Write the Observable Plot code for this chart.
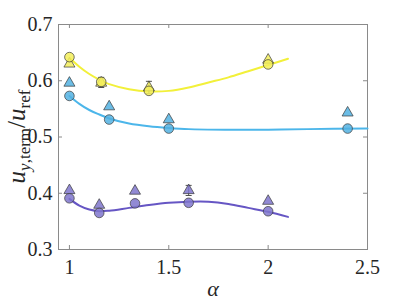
<!DOCTYPE html>
<html><head><meta charset="utf-8">
<script src="https://cdn.jsdelivr.net/npm/d3@7"></script>
<script src="https://cdn.jsdelivr.net/npm/@observablehq/plot@0.6"></script>
<style>body{margin:0;background:#fff}</style></head>
<body><div id="c"></div>
<script>
const xTicks = [1, 1.5, 2, 2.5];
const yTicks = [0.3, 0.4, 0.5, 0.6, 0.7];
const seriesNames = ["yellow", "blue", "purple"];
const seriesFill = ["#f3ef5c", "#52b2e2", "#7f76cc"];
const seriesLine = ["#f2f03a", "#4cb6ea", "#6656c4"];

// markers: circles
const yelCircX = [1, 1.16, 1.4, 2];
const yelCircY = [0.642, 0.598, 0.582, 0.629];
const bluCircX = [1, 1.2, 1.5, 2.4];
const bluCircY = [0.573, 0.531, 0.515, 0.515];
const purCircX = [1, 1.15, 1.33, 1.6, 2];
const purCircY = [0.391, 0.365, 0.382, 0.383, 0.368];
// markers: triangles
const yelTriX = [1, 1.16, 1.4, 2];
const yelTriY = [0.630, 0.596, 0.588, 0.637];
const bluTriX = [1, 1.2, 1.5, 2.4];
const bluTriY = [0.596, 0.554, 0.531, 0.543];
const purTriX = [1, 1.15, 1.33, 1.6, 2];
const purTriY = [0.405, 0.379, 0.404, 0.405, 0.386];
// error bars
const errX = [1.16, 1.4, 1.6];
const errLo = [0.588, 0.577, 0.396];
const errHi = [0.606, 0.599, 0.414];
// fitted curves
const yelCurveX = [1, 1.05, 1.1, 1.15, 1.2, 1.3, 1.4, 1.5, 1.6, 1.7, 1.8, 1.9, 2, 2.1];
const yelCurveY = [0.641, 0.625, 0.612, 0.602, 0.594, 0.585, 0.581, 0.582, 0.588, 0.597, 0.606, 0.617, 0.628, 0.639];
const bluCurveX = [1, 1.05, 1.1, 1.15, 1.2, 1.3, 1.4, 1.5, 1.6, 1.8, 2, 2.2, 2.5];
const bluCurveY = [0.573, 0.559, 0.548, 0.540, 0.533, 0.524, 0.519, 0.516, 0.514, 0.513, 0.513, 0.514, 0.515];
const purCurveX = [1, 1.05, 1.1, 1.15, 1.2, 1.3, 1.4, 1.5, 1.6, 1.7, 1.8, 1.9, 2, 2.1];
const purCurveY = [0.390, 0.378, 0.371, 0.368, 0.369, 0.374, 0.379, 0.383, 0.385, 0.385, 0.381, 0.374, 0.367, 0.358];

const zip = (xs, ys, s) => xs.map((x, i) => ({x, y: ys[i], s}));
const circles = [...zip(yelCircX, yelCircY, 0), ...zip(bluCircX, bluCircY, 1), ...zip(purCircX, purCircY, 2)];
const triangles = [...zip(yelTriX, yelTriY, 0), ...zip(bluTriX, bluTriY, 1), ...zip(purTriX, purTriY, 2)];
const curves = [...zip(yelCurveX, yelCurveY, 0), ...zip(bluCurveX, bluCurveY, 1), ...zip(purCurveX, purCurveY, 2)];
const errs = errX.map((x, i) => ({x, lo: errLo[i], hi: errHi[i]}));

const capSymbol = {draw(ctx, size) { const w = Math.sqrt(size) / 2; ctx.moveTo(-w, 0); ctx.lineTo(w, 0); }};

const W = 407, H = 306, mL = 58, mR = 40, mT = 24, mB = 57;
const pw = W - mL - mR, ph = H - mT - mB;
const font = "'Liberation Serif', serif";
const frameCol = "#8a8a8a";

const chart = Plot.plot({
  width: W, height: H,
  marginLeft: mL, marginRight: mR, marginTop: mT, marginBottom: mB,
  style: {fontFamily: font, fontSize: "20px", background: "#fff", color: "#262626"},
  x: {domain: [0.945, 2.5]},
  y: {domain: [0.3, 0.7]},
  marks: [
    Plot.axisX(xTicks, {tickSize: 0, tickPadding: 10, tickFormat: d => String(d), fontSize: 20, label: null}),
    Plot.axisY(yTicks, {tickSize: 0, tickPadding: 6, tickFormat: d => d.toFixed(1), fontSize: 20, label: null}),
    Plot.tickX(xTicks, {x: d => d, insetTop: ph - 4, stroke: frameCol}),
    Plot.tickX(xTicks, {x: d => d, insetBottom: ph - 4, stroke: frameCol}),
    Plot.tickY(yTicks, {y: d => d, insetRight: pw - 4, stroke: frameCol}),
    Plot.tickY(yTicks, {y: d => d, insetLeft: pw - 4, stroke: frameCol}),
    Plot.frame({stroke: frameCol}),
    Plot.line(curves, {x: "x", y: "y", z: "s", stroke: d => seriesLine[d.s], strokeWidth: 2, curve: "catmull-rom"}),
    Plot.ruleX(errs, {x: "x", y1: "lo", y2: "hi", stroke: "#222", strokeWidth: 0.8}),
    Plot.dot(errs, {x: "x", y: "lo", symbol: capSymbol, r: 3.4, stroke: "#222", strokeWidth: 0.8, fill: "none"}),
    Plot.dot(errs, {x: "x", y: "hi", symbol: capSymbol, r: 3.4, stroke: "#222", strokeWidth: 0.8, fill: "none"}),
    Plot.dot(triangles, {x: "x", y: "y", symbol: "triangle", r: 4.1, fill: d => seriesFill[d.s], fillOpacity: 0.85, stroke: "#3a3a3a", strokeWidth: 0.7}),
    Plot.dot(circles, {x: "x", y: "y", symbol: "circle", r: 4.8, fill: d => seriesFill[d.s], fillOpacity: 0.85, stroke: "#3a3a3a", strokeWidth: 0.7}),
    Plot.text(["α"], {frameAnchor: "bottom", dy: 46, fontSize: 22, fontStyle: "italic", fill: "#262626", text: d => d})
  ]
});
document.getElementById("c").appendChild(chart);

// y label with subscripts
const svg = d3.select(chart);
const t = svg.append("text")
  .attr("transform", `translate(25,${mT + ph / 2}) rotate(-90)`)
  .attr("text-anchor", "middle")
  .style("font-size", "25px")
  .attr("fill", "#262626");
t.append("tspan").attr("font-style", "italic").text("u");
t.append("tspan").style("font-size", "17px").attr("dy", 5).attr("font-style", "italic").text("y");
t.append("tspan").style("font-size", "17px").text(",term");
t.append("tspan").attr("dy", -5).text("/");
t.append("tspan").attr("font-style", "italic").text("u");
t.append("tspan").style("font-size", "17px").attr("dy", 5).text("ref");
svg.selectAll("text").style("font-family", font);
</script></body></html>
